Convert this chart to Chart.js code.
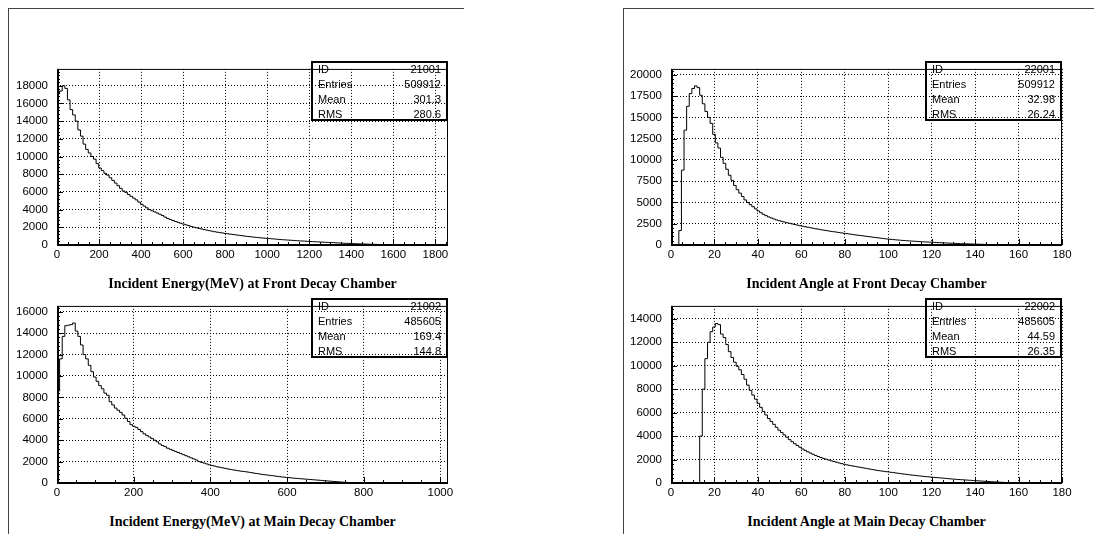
<!DOCTYPE html>
<html><head><meta charset="utf-8">
<script src="https://cdn.jsdelivr.net/npm/chart.js@4.4.1/dist/chart.umd.min.js"></script>
<style>
html,body{margin:0;padding:0;background:#fff;width:1101px;height:534px;overflow:hidden;position:relative}
.frame{position:absolute;border-left:1px solid #444;border-top:1px solid #444}
canvas{position:absolute}
.title{position:absolute;font:bold 14px "Liberation Serif","Times New Roman",serif;color:#000;white-space:nowrap;transform:translate(-50%,-50%)}
.stats{position:absolute;border:2px solid #000;box-sizing:border-box;font:11px "Liberation Sans",Arial,sans-serif;color:#000}
.stats .row{display:flex;justify-content:space-between;height:15px;line-height:15px;padding:0 5px 0 5px}
</style></head>
<body>
<div class="frame" style="left:8px;top:8px;width:455px;height:540px"></div>
<div class="frame" style="left:623px;top:8px;width:470px;height:540px"></div>
<canvas id="c1"></canvas><canvas id="c2"></canvas><canvas id="c3"></canvas><canvas id="c4"></canvas>
<div id="overlay"></div>
<script>
// ---------- DATA ----------
const energyFrontRange = [0, 1860];
const energyFrontCounts = [
14500,17100,17400,18000,17700,16400,15300,14700,14000,13000,
12300,11400,10800,10400,10000,9700,9200,8700,8400,8100,
7900,7600,7300,7000,6700,6400,6100,5950,5700,5500,
5300,5100,4850,4600,4400,4200,4000,3870,3740,3610,
3480,3330,3150,3000,2880,2770,2660,2560,2460,2370,
2280,2190,2100,2020,1950,1880,1810,1740,1680,1620,
1560,1500,1450,1400,1360,1310,1270,1230,1190,1150,
1110,1070,1030,990,960,920,890,860,830,800,
775,750,725,700,675,650,625,600,580,560,
540,520,500,480,460,445,430,410,395,375,
360,345,330,315,300,285,270,255,240,225,
210,195,185,170,160,148,136,125,115,105,
95,86,78,70,62,55,49,43,38,33,
28,24,20,17,14,11,9,7,5,4,
3,2,2,1,1,0,0,0,0,0];

const energyMainRange = [0, 1020];
const energyMainCounts = [
2400,8600,11600,13700,14700,14750,14800,14950,14200,13700,
12900,12000,11600,11000,10400,9900,9500,9100,8800,8400,
8200,7600,7300,7000,6800,6600,6350,6050,5750,5450,
5300,5200,5000,4800,4600,4450,4300,4150,4000,3850,
3650,3500,3400,3250,3150,3050,2950,2850,2750,2650,
2550,2450,2350,2250,2150,2000,1930,1860,1780,1700,
1640,1580,1520,1470,1420,1370,1320,1270,1230,1190,
1150,1110,1080,1050,1010,970,930,890,850,810,
780,750,720,690,660,620,590,560,540,510,
490,460,440,420,400,380,360,340,320,300,
280,260,240,220,200,180,160,140,120,100,
80,65,50,40,30,20,12,6,3,1,
0,0,0,0,0,0,0,0,0,0,
0,0,0,0,0,0,0,0,0,0,
0,0,0,0,0,0,0,0,0,0];

const angleFrontRange = [0, 180];
const angleFrontCounts = [
0,0,0,0,1700,8800,13500,16300,17800,18400,
18700,18500,17600,16600,15700,15000,14300,13000,12000,11400,
10300,9600,8900,8200,7600,7000,6500,6100,5700,5300,
5000,4750,4500,4250,4000,3800,3600,3450,3300,3180,
3060,2950,2860,2780,2700,2620,2550,2480,2410,2340,
2270,2210,2150,2090,2030,1970,1910,1860,1800,1750,
1700,1650,1600,1560,1510,1460,1420,1370,1330,1290,
1250,1200,1160,1120,1080,1040,1000,960,920,880,
840,800,760,720,690,660,630,600,575,550,
525,500,480,460,440,420,400,380,360,345,
330,315,300,285,270,255,240,225,210,195,
180,168,156,145,135,125,115,106,97,88,
80,72,64,57,50,44,38,32,27,22,
18,14,11,8,6,4,3,2,1,1,
0,0,0,0,0,0,0,0,0,0];

const angleMainRange = [0, 180];
const angleMainCounts = [
0,0,0,0,0,0,0,0,0,0,
0,0,4000,8000,10600,12000,12900,13300,13600,13500,
12700,12400,11800,11200,10700,10300,9950,9650,9250,8850,
8350,7900,7500,7150,6800,6450,6100,5800,5500,5250,
5000,4750,4500,4300,4100,3900,3700,3520,3350,3200,
3050,2900,2780,2660,2550,2450,2350,2260,2180,2100,
2030,1960,1890,1830,1770,1710,1650,1600,1550,1500,
1460,1420,1380,1340,1300,1260,1220,1180,1140,1100,
1060,1030,1000,970,940,910,880,850,820,790,
760,730,700,675,650,625,600,575,550,530,
510,490,470,450,430,410,390,370,350,330,
310,295,280,265,250,235,220,205,190,175,
160,145,130,115,100,88,76,65,55,45,
36,28,21,15,10,6,3,1,0,0,
0,0,0,0,0,0,0,0,0,0];

// axis tick labels
const xTicksEnergyFront = [0, 200, 400, 600, 800, 1000, 1200, 1400, 1600, 1800];
const yTicksEnergyFront = [0, 2000, 4000, 6000, 8000, 10000, 12000, 14000, 16000, 18000];
const xTicksEnergyMain = [0, 200, 400, 600, 800, 1000];
const yTicksEnergyMain = [0, 2000, 4000, 6000, 8000, 10000, 12000, 14000, 16000];
const xTicksAngle = [0, 20, 40, 60, 80, 100, 120, 140, 160, 180];
const yTicksAngleFront = [0, 2500, 5000, 7500, 10000, 12500, 15000, 17500, 20000];
const yTicksAngleMain = [0, 2000, 4000, 6000, 8000, 10000, 12000, 14000];
const yMaxEnergyFront = 19900, yMaxEnergyMain = 16550, yMaxAngleFront = 20700, yMaxAngleMain = 15100;

const statLabels = ["ID", "Entries", "Mean", "RMS"];
const statsEnergyFront = ["21001", "509912", "301.3", "280.6"];
const statsEnergyMain  = ["21002", "485605", "169.4", "144.8"];
const statsAngleFront  = ["22001", "509912", "32.98", "26.24"];
const statsAngleMain   = ["22002", "485605", "44.59", "26.35"];
const titleEnergyFront = "Incident Energy(MeV) at Front Decay Chamber";
const titleEnergyMain  = "Incident Energy(MeV) at Main Decay Chamber";
const titleAngleFront  = "Incident Angle at Front Decay Chamber";
const titleAngleMain   = "Incident Angle at Main Decay Chamber";

// ---------- DRAWING ----------
const Y_AXIS_W = 50, X_AXIS_H = 22, PAD_T = 8, PAD_R = 14;

const pawFrame = {
  id: 'pawFrame',
  afterDatasetsDraw(chart, args, o) {
    const {ctx, chartArea: a, scales: {x, y}} = chart;
    ctx.save();
    ctx.strokeStyle = '#000';
    ctx.lineWidth = 1;
    ctx.beginPath();
    const isMajor = (v, m) => Math.abs(v / m - Math.round(v / m)) < 1e-6;
    for (let k = 0; ; k++) {
      const v = x.min + k * o.xMinor;
      if (v > x.max + 1e-9) break;
      const px = Math.round(x.getPixelForValue(v)) + 0.5;
      const len = isMajor(v, o.xMajor) ? 6 : 3;
      ctx.moveTo(px, a.bottom); ctx.lineTo(px, a.bottom - len);
    }
    for (let k = 0; ; k++) {
      const v = y.min + k * o.yMinor;
      if (v > y.max + 1e-9) break;
      const py = Math.round(y.getPixelForValue(v)) + 0.5;
      const len = isMajor(v, o.yMajor) ? 6 : 3;
      ctx.moveTo(a.left, py); ctx.lineTo(a.left + len, py);
    }
    ctx.stroke();
    ctx.strokeRect(a.left + 0.5, a.top + 0.5, a.right - a.left - 1, a.bottom - a.top);
    ctx.lineWidth = 2;
    ctx.beginPath();
    ctx.moveTo(a.left + 1, a.top); ctx.lineTo(a.left + 1, a.bottom); ctx.lineTo(a.right, a.bottom);
    ctx.stroke();
    ctx.restore();
  }
};

function histPoints(range, counts) {
  const w = (range[1] - range[0]) / counts.length;
  const pts = [{x: range[0], y: 0}];
  counts.forEach((c, i) => pts.push({x: range[0] + i * w, y: c}));
  pts.push({x: range[1], y: 0});
  return pts;
}

function makeHist(id, box, range, counts, yMax, xTicks, xMinor, yTicks, yMinor, stats, title) {
  const cv = document.getElementById(id);
  const W = Y_AXIS_W + box.w + PAD_R, H = PAD_T + box.h + X_AXIS_H;
  cv.width = W; cv.height = H;
  cv.style.left = (box.l - Y_AXIS_W) + 'px';
  cv.style.top = (box.t - PAD_T) + 'px';
  cv.style.width = W + 'px'; cv.style.height = H + 'px';
  const tickFont = {family: '"Liberation Sans", Arial, sans-serif', size: 11.5};
  new Chart(cv, {
    type: 'line',
    data: {datasets: [{data: histPoints(range, counts), stepped: 'after', borderColor: '#000',
      borderWidth: 1, pointRadius: 0, fill: false}]},
    options: {
      responsive: false, animation: false, events: [],
      layout: {padding: {top: PAD_T, right: PAD_R, left: 0, bottom: 0}},
      plugins: {legend: {display: false}, tooltip: {enabled: false},
        pawFrame: {xMajor: xTicks[1] - xTicks[0], xMinor: xMinor, yMajor: yTicks[1] - yTicks[0], yMinor: yMinor}},
      scales: {
        x: {type: 'linear', min: range[0], max: range[1],
          afterFit: s => { s.height = X_AXIS_H; },
          afterBuildTicks: s => { s.ticks = xTicks.map(v => ({value: v})); },
          ticks: {autoSkip: false, maxRotation: 0, minRotation: 0,
            color: '#000', font: tickFont, padding: 3, callback: v => String(v)},
          grid: {color: '#000', lineWidth: 1, drawTicks: false},
          border: {display: false, dash: [1, 2]}},
        y: {type: 'linear', min: 0, max: yMax,
          afterFit: s => { s.width = Y_AXIS_W; },
          afterBuildTicks: s => { s.ticks = yTicks.map(v => ({value: v})); },
          ticks: {autoSkip: false,
            color: '#000', font: tickFont, padding: 9, callback: v => String(v)},
          grid: {color: '#000', lineWidth: 1, drawTicks: false},
          border: {display: false, dash: [1, 2]}}
      }
    },
    plugins: [pawFrame]
  });
  const ov = document.getElementById('overlay');
  const sb = document.createElement('div');
  sb.className = 'stats';
  const sw = 137, sh = 60;
  sb.style.left = (box.l + box.w - sw) + 'px';
  sb.style.top = box.t + 'px';
  sb.style.width = sw + 'px'; sb.style.height = sh + 'px';
  let html = '<div style="margin-top:-1px">';
  statLabels.forEach((lab, i) => { html += '<div class="row"><span>' + lab + '</span><span>' + stats[i] + '</span></div>'; });
  sb.innerHTML = html + '</div>';
  ov.appendChild(sb);
  const t = document.createElement('div');
  t.className = 'title';
  t.textContent = title;
  t.style.left = (box.l + box.w / 2) + 'px';
  t.style.top = (box.t + box.h + 39) + 'px';
  ov.appendChild(t);
}

makeHist('c1', {l: 57, t: 61, w: 391, h: 184}, energyFrontRange, energyFrontCounts, yMaxEnergyFront, xTicksEnergyFront, 50, yTicksEnergyFront, 400, statsEnergyFront, titleEnergyFront);
makeHist('c2', {l: 57, t: 298, w: 391, h: 185}, energyMainRange, energyMainCounts, yMaxEnergyMain, xTicksEnergyMain, 50, yTicksEnergyMain, 400, statsEnergyMain, titleEnergyMain);
makeHist('c3', {l: 671, t: 61, w: 391, h: 184}, angleFrontRange, angleFrontCounts, yMaxAngleFront, xTicksAngle, 5, yTicksAngleFront, 500, statsAngleFront, titleAngleFront);
makeHist('c4', {l: 671, t: 298, w: 391, h: 185}, angleMainRange, angleMainCounts, yMaxAngleMain, xTicksAngle, 5, yTicksAngleMain, 400, statsAngleMain, titleAngleMain);
</script>
</body></html>
